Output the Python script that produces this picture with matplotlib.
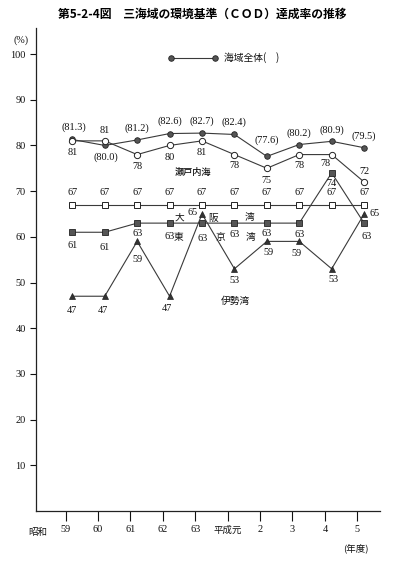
import matplotlib
matplotlib.use("Agg")
import matplotlib.pyplot as plt
import numpy as np
from matplotlib.transforms import blended_transform_factory

plt.rcParams['font.family'] = ['Liberation Serif', 'Noto Sans CJK JP', 'DejaVu Sans']

# ---------------- data ----------------
years = ['59', '60', '61', '62', '63', '平成元', '2', '3', '4', '5']
total = [81.3, 80.0, 81.2, 82.6, 82.7, 82.4, 77.6, 80.2, 80.9, 79.5]      # 海域全体
setonaikai = [81, 81, 78, 80, 81, 78, 75, 78, 78, 72]                     # 瀬戸内海
osaka = [67, 67, 67, 67, 67, 67, 67, 67, 67, 67]                          # 大阪湾
tokyo = [61, 61, 63, 63, 63, 63, 63, 63, 74, 63]                          # 東京湾
ise = [47, 47, 59, 47, 65, 53, 59, 59, 53, 65]                            # 伊勢湾
yticks = [10, 20, 30, 40, 50, 60, 70, 80, 90, 100]

W, H = 398, 563
fig = plt.figure(figsize=(W / 100, H / 100), dpi=100)
ax = fig.add_axes([36 / W, 52 / H, (380 - 36) / W, (511 - 28) / H])

x = np.arange(len(years))
lc = '#3a3a3a'
lw = 0.8
tc = '#111111'

ax.plot(x, total, color=lc, lw=lw, marker='o', ms=4.0, mfc='#555555', mec='#222222', mew=0.6, zorder=3)
ax.plot(x, setonaikai, color=lc, lw=lw, marker='o', ms=4.5, mfc='white', mec='#222222', mew=0.7, zorder=3)
ax.plot(x, osaka, color=lc, lw=lw, marker='s', ms=4.2, mfc='white', mec='#222222', mew=0.7, zorder=3)
ax.plot(x, tokyo, color=lc, lw=lw, marker='s', ms=4.0, mfc='#555555', mec='#222222', mew=0.6, zorder=3)
ax.plot(x, ise, color=lc, lw=lw, marker='^', ms=4.4, mfc='#333333', mec='#222222', mew=0.5, zorder=3)

ax.set_xlim(-1.12, 9.49)
ax.set_ylim(0, 105.7)

for s in ['top', 'right']:
    ax.spines[s].set_visible(False)
for s in ['left', 'bottom']:
    ax.spines[s].set_linewidth(0.9)
    ax.spines[s].set_color('#222222')

ax.set_yticks(yticks)
ax.set_yticklabels([str(v) for v in yticks])
ax.tick_params(axis='y', length=4.3, width=0.8, pad=3.0, labelsize=7.4, colors=tc)
ax.set_xticks(x - 0.21)
ax.set_xticklabels(years)
ax.tick_params(axis='x', length=7.2, width=0.8, pad=3.2, labelsize=7.4, colors=tc)
for lab in ax.get_xticklabels():
    if lab.get_text() == '平成元':
        lab.set_family(['Noto Sans CJK JP'])
        lab.set_fontsize(6.8)

trans = blended_transform_factory(ax.transData, ax.transAxes)
ax.text(-1.06, -22 / 483, '昭和', transform=trans, ha='center', va='center',
        fontsize=6.8, family=['Noto Sans CJK JP'], color=tc)
ax.text(9 - 0.24, -37 / 483, '(年度)', transform=trans, ha='center', va='center',
        fontsize=6.8, family=['Noto Sans CJK JP'], color=tc)

fs = 7.4
PX = 0.72


def label(xv, yv, txt, dx, dy, **kw):
    ax.annotate(txt, (xv, yv), xytext=(dx * PX, dy * PX), textcoords='offset points',
                ha=kw.pop('ha', 'center'), va='center', fontsize=fs, color=tc, **kw)


# 海域全体 labels
tot_off = [(2, 12), (1, -12), (0, 12), (0, 12), (0, 12), (0, 12), (0, 16), (0, 11), (0, 11), (0, 12)]
for i, v in enumerate(total):
    label(i, v, f'({v:.1f})', *tot_off[i])

# 瀬戸内海 labels
seto_off = [(0, -12), (0, 10), (0, -12), (0, -12), (0, -12), (0, -11), (0, -12), (0, -11), (-6, -9), (0, 10)]
for i, v in enumerate(setonaikai):
    label(i, v, str(v), *seto_off[i])

# 大阪湾 labels
for i, v in enumerate(osaka):
    label(i, v, str(v), 0, 12)

# 東京湾 labels
tok_off = [(0, -13), (0, -15), (0, -10), (0, -13), (1, -15), (0, -11), (0, -10), (0, -11), (0, -11), (3, -13)]
for i, v in enumerate(tokyo):
    label(i, v, str(v), *tok_off[i])

# 伊勢湾 labels
ise_off = [(0, -14), (-2, -14), (0, -18), (-3, -12), (-9, 1), (0, -12), (2, -11), (-3, -12), (2, -11), (10, 0)]
for i, v in enumerate(ise):
    label(i, v, str(v), *ise_off[i])

jp = dict(family=['Noto Sans CJK JP'], color=tc, ha='center', va='center')
ax.text(3.71, 74.0, '瀬戸内海', fontsize=6.6, weight='medium', **jp)
ax.text(3.29, 64.2, '大', fontsize=7.0, **jp)
ax.text(4.33, 64.2, '阪', fontsize=7.0, **jp)
ax.text(5.48, 64.3, '湾', fontsize=7.0, **jp)
ax.text(3.28, 60.0, '東', fontsize=7.0, **jp)
ax.text(4.57, 60.0, '京', fontsize=7.0, **jp)
ax.text(5.49, 60.0, '湾', fontsize=7.0, **jp)
ax.text(5.02, 46.0, '伊勢湾', fontsize=7.0, **jp)

# legend (drawn manually)
ly = (511 - 58) / 483
ax.plot([(170.7 - 36) / 344, (215 - 36) / 344], [ly, ly], transform=ax.transAxes,
        color=lc, lw=lw, marker='o', ms=4.0, mfc='#555555', mec='#222222', mew=0.6, clip_on=False)
ax.text((224 - 36) / 344, ly, '海域全体(　)', transform=ax.transAxes, fontsize=7.0,
        family=['Noto Sans CJK JP'], color=tc, ha='left', va='center')

fig.text(202 / W, 1 - 14 / H, '第5-2-4図　三海域の環境基準（ＣＯＤ）達成率の推移',
         ha='center', va='center', fontsize=8.5, weight='bold', family=['Noto Sans CJK JP'])
fig.text(21 / W, 1 - 40 / H, '(%)', ha='center', va='center', fontsize=7.2, color=tc)

fig.savefig('out.png', dpi=100)
